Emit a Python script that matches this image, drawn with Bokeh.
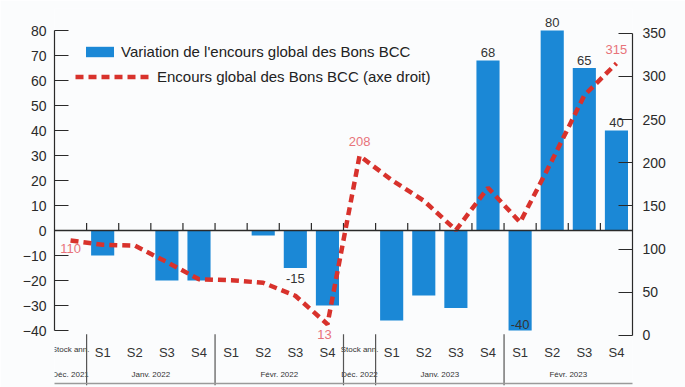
import math
from bokeh.plotting import figure
from bokeh.models import (Range1d, LinearAxis, FixedTicker, Span, Legend, LegendItem,
                          BoxAnnotation)
from bokeh.core.properties import value
from bokeh.embed import file_html
from bokeh.resources import INLINE

# ---------------- data ----------------
categories = ["Stock ann.", "S1", "S2", "S3", "S4", "S1", "S2", "S3", "S4",
              "Stock ann.", "S1", "S2", "S3", "S4", "S1", "S2", "S3", "S4"]
periods = ["Déc. 2021", "Janv. 2022", "Févr. 2022", "Déc. 2022", "Janv. 2023", "Févr. 2023"]
period_sizes = [1, 4, 4, 1, 4, 4]
variation = [None, -10, 0, -20, -20, 0, -2, -15, -30,
             None, -36, -26, -31, 68, -40, 80, 65, 40]
encours = [110, 105, 104, 85, 65, 64, 61, 46, 13,
           208, 180, 156, 122, 171, 131, 203, 278, 315]
variation_labels = ["", "", "", "", "", "", "", "-15", "",
                    "", "", "", "", "68", "-40", "80", "65", "40"]
encours_labels = ["110", "", "", "", "", "", "", "", "13",
                  "208", "", "", "", "", "", "", "", "315"]
left_ticks = list(range(-40, 81, 10))
right_ticks = list(range(0, 351, 50))
legend_bar = "Variation de l'encours global des Bons BCC"
legend_line = "Encours global des Bons BCC (axe droit)"

FONT = value("Liberation Sans")
BLUE = "#1b88d6"
RED = "#d8322c"
PINK = "#e8737a"
DARK = "#2a2a2a"
BG = "#fbfcfd"

n = len(categories)
xs = list(range(n))

p = figure(width=685, height=387, output_backend="svg", toolbar_location=None,
           x_range=Range1d(-0.5, n - 0.5), y_range=Range1d(-62.0, 88.8),
           x_axis_location=None, min_border_left=54, min_border_right=53,
           min_border_top=8, min_border_bottom=2,
           background_fill_color=BG, border_fill_color=BG)
p.outline_line_color = None
p.xgrid.visible = False
p.ygrid.visible = False
p.extra_y_ranges = {"right": Range1d(-57.9, 378.5)}

# left axis
ya = p.yaxis[0]
ya.ticker = FixedTicker(ticks=left_ticks)
ya.bounds = (min(left_ticks), max(left_ticks))
ya.major_tick_in = 14
ya.major_tick_out = 0
ya.minor_tick_line_color = None
ya.major_label_standoff = 8
ya.major_label_text_font = "Liberation Sans"
ya.major_label_text_font_size = "14px"
ya.major_label_text_color = DARK
ya.axis_line_color = DARK
ya.major_tick_line_color = DARK
ya.axis_line_width = 1.2

# right axis
ra = LinearAxis(y_range_name="right", ticker=FixedTicker(ticks=right_ticks),
                bounds=(min(right_ticks), max(right_ticks)))
ra.major_tick_in = 14
ra.major_tick_out = 0
ra.minor_tick_line_color = None
ra.major_label_standoff = 10
ra.major_label_text_font = "Liberation Sans"
ra.major_label_text_font_size = "14px"
ra.major_label_text_color = DARK
ra.axis_line_color = DARK
ra.major_tick_line_color = DARK
ra.axis_line_width = 1.2
p.add_layout(ra, "right")

# bars
bar_top = [float("nan") if v is None else v for v in variation]
bars = p.vbar(x=xs, top=bar_top, bottom=0, width=0.72, fill_color=BLUE, line_color=None)

# zero line and ticks
p.add_layout(Span(location=0, dimension="width", line_color=DARK, line_width=1.5))
bx = [i + 0.5 for i in range(n - 1)]
p.segment(x0=bx, x1=bx, y0=[0] * len(bx), y1=[3] * len(bx), line_color=DARK, line_width=1.2)

# line (right axis)
ln = p.line(x=xs, y=encours, y_range_name="right", line_color=RED, line_width=4.5,
            line_dash="8 5")

# bar value labels
vmin = min(v for v in variation if v is not None)
lx, ly, lt, loff = [], [], [], []
for i, t in enumerate(variation_labels):
    if not t:
        continue
    v = variation[i]
    lx.append(i); ly.append(v); lt.append(t)
    if v > 0:
        loff.append(-8)
    elif v == vmin:
        loff.append(-6)
    else:
        loff.append(10)
p.text(x=lx, y=ly, text=lt, y_offset=loff, text_align="center", text_baseline="middle",
       text_font=FONT, text_font_size="13px", text_color="#333333")

# line value labels
emin = min(encours)
ex, ey, et, exo, eyo = [], [], [], [], []
for i, t in enumerate(encours_labels):
    if not t:
        continue
    ex.append(i); ey.append(encours[i]); et.append(t)
    if i == 0:
        exo.append(0); eyo.append(8)
    elif encours[i] == emin:
        exo.append(-3); eyo.append(10)
    else:
        exo.append(0); eyo.append(-14)
p.text(x=ex, y=ey, text=et, x_offset=exo, y_offset=eyo, y_range_name="right",
       text_align="center", text_baseline="middle",
       text_font=FONT, text_font_size="13px", text_color=PINK)

# category labels (row 1) and period labels (row 2)
big = [i for i, c in enumerate(categories) if not c.startswith("Stock")]
small = [i for i, c in enumerate(categories) if c.startswith("Stock")]
p.text(x=big, y=[-48.8] * len(big), text=[categories[i] for i in big],
       text_align="center", text_baseline="middle", text_font=FONT,
       text_font_size="13px", text_color="#333333")
p.text(x=small, y=[-47.4] * len(small), text=[categories[i] for i in small],
       text_align="center", text_baseline="middle", text_font=FONT,
       text_font_size="8px", text_color="#333333")
px, start = [], 0
for s in period_sizes:
    px.append(start + (s - 1) / 2)
    start += s
p.text(x=px, y=[-57.6] * len(px), text=periods, text_align="center",
       text_baseline="middle", text_font=FONT, text_font_size="8px", text_color="#333333")

# group separators
sep, start = [], 0
for s in period_sizes[:-1]:
    start += s
    sep.append(start - 0.5)
p.segment(x0=sep, x1=sep, y0=[-41.5] * len(sep), y1=[-62] * len(sep),
          line_color="#555555", line_width=1.2)

# legends
leg1 = Legend(items=[LegendItem(label=legend_bar, renderers=[bars])],
              location=(28, 325), glyph_width=35, glyph_height=13, label_height=13,
              label_standoff=4, padding=0, margin=0, spacing=0,
              border_line_color=None, background_fill_alpha=0,
              label_text_font="Liberation Sans", label_text_font_size="15px",
              label_text_color="#222222")
leg2 = Legend(items=[LegendItem(label=legend_line, renderers=[ln])],
              location=(21, 300), glyph_width=74, glyph_height=13, label_height=13,
              label_standoff=8, padding=0, margin=0, spacing=0,
              border_line_color=None, background_fill_alpha=0,
              label_text_font="Liberation Sans", label_text_font_size="15px",
              label_text_color="#222222")
p.add_layout(leg1)
p.add_layout(leg2)

# outer border (screen units, relative to the frame)
p.add_layout(BoxAnnotation(left=-44, right=623, bottom=2, top=381,
                           left_units="screen", right_units="screen",
                           top_units="screen", bottom_units="screen",
                           fill_alpha=0, line_color="#9a9a9a", line_alpha=1,
                           line_width=1.5, level="overlay"))

open("out.html", "w").write(file_html(p, INLINE))
